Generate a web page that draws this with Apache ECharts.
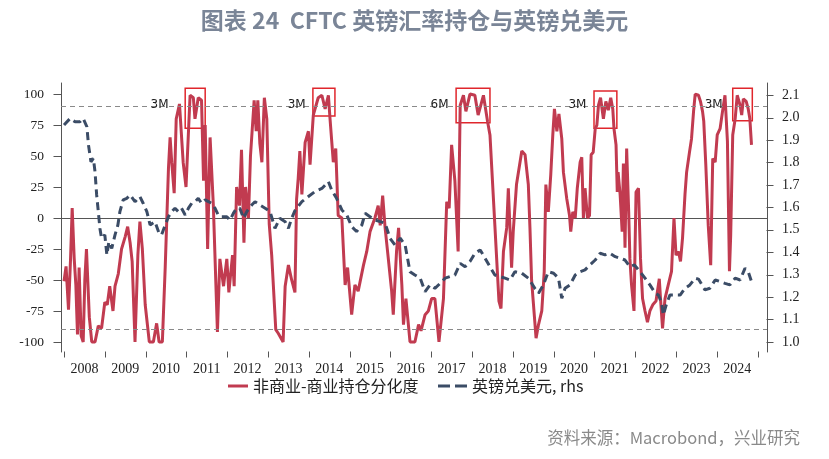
<!DOCTYPE html>
<html><head><meta charset="utf-8">
<script src="https://cdn.jsdelivr.net/npm/echarts@6/dist/echarts.min.js"></script>
<style>html,body{margin:0;padding:0;background:#fff}#c{width:829px;height:459px}</style>
</head><body><div id="c"></div>
<script>
// ---- data ----
const redT = [2008.00,2008.05,2008.11,2008.16,2008.20,2008.25,2008.29,2008.33,2008.37,2008.42,2008.47,2008.51,2008.55,2008.62,2008.68,2008.76,2008.84,2008.92,
2009.00,2009.06,2009.12,2009.20,2009.25,2009.33,2009.41,2009.50,2009.56,2009.62,2009.67,2009.74,2009.81,2009.86,2009.92,2009.99,
2010.09,2010.19,2010.27,2010.33,2010.41,2010.48,2010.56,2010.60,2010.64,2010.70,2010.75,2010.83,2010.92,2010.99,
2011.09,2011.17,2011.21,2011.29,2011.37,2011.42,2011.46,2011.52,2011.58,2011.66,2011.76,2011.82,2011.91,2011.99,
2012.04,2012.13,2012.17,2012.23,2012.30,2012.35,2012.41,2012.45,2012.52,2012.57,2012.66,2012.71,2012.75,2012.80,2012.85,2012.91,2012.97,
2013.03,2013.09,2013.19,2013.25,2013.37,2013.42,2013.50,2013.58,2013.66,2013.70,2013.74,2013.78,2013.83,2013.91,2013.99,
2014.03,2014.11,2014.23,2014.32,2014.40,2014.48,2014.52,2014.60,2014.66,2014.72,2014.81,2014.89,2014.95,
2015.05,2015.13,2015.21,2015.34,2015.42,2015.50,2015.62,2015.70,2015.75,2015.81,2015.87,2015.93,
2016.03,2016.07,2016.15,2016.20,2016.28,2016.32,2016.38,2016.48,2016.60,2016.69,2016.75,2016.85,2016.93,
2017.01,2017.09,2017.19,2017.30,2017.38,2017.44,2017.50,2017.58,2017.66,2017.71,2017.79,2017.85,2017.95,
2018.07,2018.15,2018.28,2018.38,2018.44,2018.56,2018.66,2018.71,2018.77,2018.85,2018.89,2018.97,
2019.01,2019.09,2019.22,2019.30,2019.38,2019.42,2019.46,2019.50,2019.57,2019.63,2019.71,2019.77,2019.81,2019.87,2019.93,2019.98,
2020.02,2020.08,2020.13,2020.20,2020.24,2020.32,2020.39,2020.42,2020.47,2020.53,2020.58,2020.65,2020.69,2020.73,2020.77,2020.83,2020.88,2020.92,2020.97,
2021.02,2021.06,2021.10,2021.15,2021.22,2021.28,2021.34,2021.40,2021.45,2021.48,2021.53,2021.56,2021.58,2021.63,2021.68,2021.71,2021.75,2021.79,2021.84,2021.87,2021.91,2021.97,
2022.02,2022.08,2022.13,2022.18,2022.24,2022.30,2022.36,2022.43,2022.51,2022.59,2022.62,2022.67,2022.73,2022.81,2022.89,2022.95,
2023.00,2023.06,2023.11,2023.16,2023.22,2023.26,2023.33,2023.38,2023.43,2023.47,2023.55,2023.60,2023.65,2023.68,2023.73,2023.79,2023.85,2023.90,2023.96,
2024.01,2024.08,2024.14,2024.20,2024.26,2024.31,2024.34,2024.39,2024.45,2024.50,2024.57,2024.61,2024.65,2024.72,2024.77,2024.81,2024.85];
const redV = [-51,-39,-74,-33,8,-33,-54,-94,-40,-95,-100,-50,-25,-80,-100,-100,-87,-89,
-68,-70,-55,-75,-55,-45,-25,-15,-7,-20,-35,-100,-30,-3,-25,-70,
-100,-100,-85,-100,-100,-40,40,65,45,20,80,92,45,25,
99,97,80,97,95,30,75,-25,65,10,-92,-33,-55,-33,
-60,-30,-55,25,10,55,-20,25,0,50,95,70,95,60,45,97,80,
-5,-30,-90,-93,-100,-55,-38,-50,-60,15,32,54,19,61,70,
43,83,97,99,88,99,80,45,56,2,0,-54,-40,
-78,-54,-59,-38,-27,-11,0,10,-6,18,-8,-27,
-59,-78,-27,-8,-54,-86,-65,-100,-100,-86,-91,-78,-75,
-65,-65,-100,-65,13,8,59,30,-27,91,99,86,100,
99,83,99,78,67,-6,-67,-73,-27,-8,24,-40,
-11,27,54,51,27,-8,-50,-67,-97,-86,-75,-43,27,5,35,67,
88,70,84,64,37,16,2,-11,5,0,24,45,49,0,24,0,2,51,53,
72,75,91,97,80,94,87,97,88,72,59,21,37,19,-11,44,-24,56,5,-33,-54,-75,
21,24,-33,-65,-75,-84,-75,-70,-67,-49,-65,-89,-65,-54,-43,0,
-30,-27,-35,-16,19,37,53,64,86,100,99,94,86,78,43,-6,-38,48,45,
67,72,86,99,62,-43,-14,67,80,99,91,83,96,94,88,80,59];

const blueT = [2008.00,2008.15,2008.27,2008.39,2008.47,2008.56,2008.60,2008.66,2008.72,2008.76,2008.80,2008.84,2008.88,2008.92,
2009.00,2009.05,2009.10,2009.17,2009.25,2009.32,2009.37,2009.45,2009.54,2009.62,2009.74,2009.86,2009.94,
2010.03,2010.11,2010.23,2010.33,2010.39,2010.48,2010.56,2010.64,2010.72,2010.80,2010.88,2010.97,
2011.05,2011.13,2011.21,2011.29,2011.37,2011.46,2011.54,2011.62,2011.70,2011.78,2011.86,2011.99,
2012.07,2012.15,2012.23,2012.31,2012.40,2012.48,2012.60,2012.68,2012.80,2012.93,
2013.05,2013.17,2013.29,2013.42,2013.50,2013.58,2013.66,2013.83,2013.99,
2014.15,2014.32,2014.48,2014.56,2014.68,2014.81,2014.93,
2015.05,2015.17,2015.30,2015.38,2015.50,2015.62,2015.75,2015.87,2015.99,
2016.11,2016.24,2016.36,2016.48,2016.60,2016.73,2016.85,2016.97,
2017.09,2017.22,2017.34,2017.46,2017.58,2017.71,2017.83,2017.95,
2018.07,2018.20,2018.32,2018.44,2018.56,2018.69,2018.81,2018.93,
2019.05,2019.22,2019.38,2019.54,2019.63,2019.75,2019.87,
2020.00,2020.12,2020.20,2020.28,2020.40,2020.53,2020.65,2020.77,2020.89,
2021.02,2021.14,2021.26,2021.38,2021.51,2021.63,2021.75,2021.87,2021.98,
2022.12,2022.24,2022.36,2022.49,2022.57,2022.65,2022.69,2022.76,2022.85,2022.98,
2023.10,2023.22,2023.34,2023.47,2023.55,2023.71,2023.83,2023.96,
2024.08,2024.20,2024.32,2024.45,2024.57,2024.69,2024.77,2024.85];
const blueV = [1.967,1.996,1.981,1.981,1.996,1.959,1.877,1.803,1.818,1.758,1.655,1.581,1.506,1.462,
1.477,1.388,1.447,1.417,1.477,1.521,1.581,1.633,1.640,1.655,1.625,1.648,1.618,
1.581,1.521,1.536,1.484,1.477,1.521,1.558,1.581,1.596,1.581,1.596,1.566,
1.596,1.618,1.625,1.640,1.618,1.633,1.625,1.618,1.596,1.566,1.558,1.558,
1.543,1.573,1.596,1.596,1.551,1.581,1.610,1.625,1.610,1.596,
1.581,1.506,1.551,1.536,1.506,1.551,1.585,1.625,1.648,
1.670,1.684,1.714,1.677,1.640,1.588,1.566,
1.514,1.492,1.521,1.573,1.558,1.543,1.536,1.529,1.462,
1.432,1.462,1.432,1.313,1.298,1.284,1.224,1.254,
1.239,1.261,1.284,1.291,1.298,1.350,1.335,1.358,
1.395,1.410,1.373,1.335,1.298,1.291,1.284,1.276,
1.313,1.306,1.284,1.239,1.217,1.254,1.313,
1.306,1.284,1.194,1.239,1.254,1.298,1.313,1.321,1.343,
1.365,1.395,1.388,1.395,1.380,1.373,1.365,1.335,1.343,
1.313,1.284,1.254,1.217,1.209,1.170,1.120,1.165,1.209,1.209,
1.209,1.239,1.254,1.284,1.280,1.232,1.239,1.276,
1.269,1.261,1.254,1.284,1.276,1.328,1.313,1.269];

const yearTicks = [2008,2009,2010,2011,2012,2013,2014,2015,2016,2017,2018,2019,2020,2021,2022,2023,2024,2025];
const yearLabels = [2008,2009,2010,2011,2012,2013,2014,2015,2016,2017,2018,2019,2020,2021,2022,2023,2024];
const leftTicks = [-100,-75,-50,-25,0,25,50,75,100];
const rightTicks = [1.0,1.1,1.2,1.3,1.4,1.5,1.6,1.7,1.8,1.9,2.0,2.1];
const thresholds = [90,-90];
const boxStart = [2010.97,2014.10,2017.61,2020.99,2024.39];
const boxEnd = [2011.46,2014.64,2018.44,2021.55,2024.87];
const boxTop = [104.6,104.6,104.6,102.4,104.6];
const boxBottom = [72.3,82.3,76.9,72.3,78.5];
const boxText = ['3M','3M','6M','3M','3M'];
const boxTextAt = [2010.60,2013.96,2017.46,2020.84,2024.18];
const boxTextLevel = 91;
const seriesNames = ['非商业-商业持仓分化度','英镑兑美元, rhs'];
const seriesColors = ['#c13b50','#3b4c66'];

const X_MIN = 2007.926, X_MAX = 2025.23;
const chart = echarts.init(document.getElementById('c'), null, {renderer:'canvas'});
const serif = 'Liberation Serif';
const cjk = 'Noto Sans CJK SC';
chart.setOption({
  animation:false,
  backgroundColor:'#ffffff',
  title:{text:'图表 24  CFTC 英镑汇率持仓与英镑兑美元', left:'center', top:4,
    textStyle:{fontFamily:cjk, fontSize:23, fontWeight:'bold', color:'#7a8597'}},
  grid:{left:61, right:62, top:83, bottom:107, containLabel:false},
  xAxis:{type:'value', min:X_MIN, max:X_MAX,
    axisLine:{show:true, lineStyle:{color:'#555', width:1}},
    axisTick:{show:false},
    axisLabel:{customValues:yearLabels.map(y=>y+0.5), formatter:v=>String(Math.floor(v)),
      fontFamily:serif, fontSize:14, color:'#222', margin:10},
    splitLine:{show:false}},
  yAxis:[
    {type:'value', min:-108.1, max:108.9, position:'left',
     axisLine:{show:true, lineStyle:{color:'#555'}},
     axisTick:{show:false},
     axisLabel:{customValues:leftTicks, formatter:v=>String(Math.round(v)), fontFamily:serif, fontSize:13.5, color:'#222', margin:17},
     splitLine:{show:false}},
    {type:'value', min:0.955, max:2.154, position:'right',
     axisLine:{show:true, lineStyle:{color:'#555'}},
     axisTick:{show:false},
     axisLabel:{customValues:rightTicks, formatter:v=>v.toFixed(1), fontFamily:serif, fontSize:14, color:'#222', margin:15},
     splitLine:{show:false}}
  ],
  series:[
    {name:seriesNames[0], type:'line', yAxisIndex:0, symbol:'none', showSymbol:false,
     data:redT.map((t,i)=>[t,redV[i]]), color:seriesColors[0],
     lineStyle:{color:seriesColors[0], width:3}, z:2,
     markLine:{silent:true, symbol:'none', label:{show:false},
       lineStyle:{type:[5,4], color:'#8a8a8a', width:1.2},
       data:thresholds.map(v=>({yAxis:v}))},
     markArea:{silent:true, label:{show:false},
       itemStyle:{color:'rgba(0,0,0,0)', borderColor:'#e0262c', borderWidth:1.5},
       data:boxStart.map((s,i)=>[{coord:[s,boxTop[i]]},{coord:[boxEnd[i],boxBottom[i]]}])},
     markPoint:{silent:true, symbol:'rect', symbolSize:1, itemStyle:{color:'rgba(0,0,0,0)'},
       label:{show:true, position:'left', distance:1, color:'#222', fontSize:12, fontFamily:'DejaVu Sans',
         formatter:p=>p.name},
       data:boxText.map((s,i)=>({name:s, coord:[boxTextAt[i], boxTextLevel]}))}
    },
    {name:seriesNames[1], type:'line', yAxisIndex:1, symbol:'none', showSymbol:false,
     data:blueT.map((t,i)=>[t,blueV[i]]), color:seriesColors[1],
     lineStyle:{color:seriesColors[1], width:3, type:[8,5]}, z:3}
  ]
});

// ticks positioned through the axes' own scales
const g = [];
const px = v => chart.convertToPixel({xAxisIndex:0}, v);
const pyL = v => chart.convertToPixel({yAxisIndex:0}, v);
const pyR = v => chart.convertToPixel({yAxisIndex:1}, v);
const xL = Math.round(px(X_MIN)) + 0.5, xR = Math.round(px(X_MAX)) - 0.5;
const yB = Math.round(pyL(-108.1)) - 0.5;
const tickStyle = {stroke:'#555', lineWidth:1};
leftTicks.forEach(v => { const y = Math.round(pyL(v)) + 0.5;
  g.push({type:'line', silent:true, shape:{x1:xL-8, y1:y, x2:xL, y2:y}, style:tickStyle}); });
rightTicks.forEach(v => { const y = Math.round(pyR(v)) + 0.5;
  g.push({type:'line', silent:true, shape:{x1:xR, y1:y, x2:xR+7, y2:y}, style:tickStyle}); });
yearTicks.forEach(v => { const x = Math.round(px(v)) + 0.5;
  g.push({type:'line', silent:true, shape:{x1:x, y1:yB, x2:x, y2:yB+6}, style:tickStyle}); });

// legend (drawn as real text)
const legY = 386;
g.push({type:'line', silent:true, shape:{x1:228, y1:legY, x2:248, y2:legY},
  style:{stroke:seriesColors[0], lineWidth:3}});
g.push({type:'text', silent:true, x:253, y:legY, style:{text:seriesNames[0], fontFamily:cjk, fontSize:16,
  fill:'#222', verticalAlign:'middle', align:'left'}});
g.push({type:'line', silent:true, shape:{x1:438, y1:legY, x2:468, y2:legY},
  style:{stroke:seriesColors[1], lineWidth:3, lineDash:[12,5]}});
g.push({type:'text', silent:true, x:472, y:legY, style:{text:seriesNames[1], fontFamily:cjk, fontSize:16,
  fill:'#222', verticalAlign:'middle', align:'left'}});

// source note
g.push({type:'text', silent:true, x:800, y:438, style:{text:'资料来源：Macrobond，兴业研究', fontFamily:cjk,
  fontSize:16.5, fill:'#8a8a8a', align:'right', verticalAlign:'middle'}});

chart.setOption({graphic:g});
</script></body></html>
